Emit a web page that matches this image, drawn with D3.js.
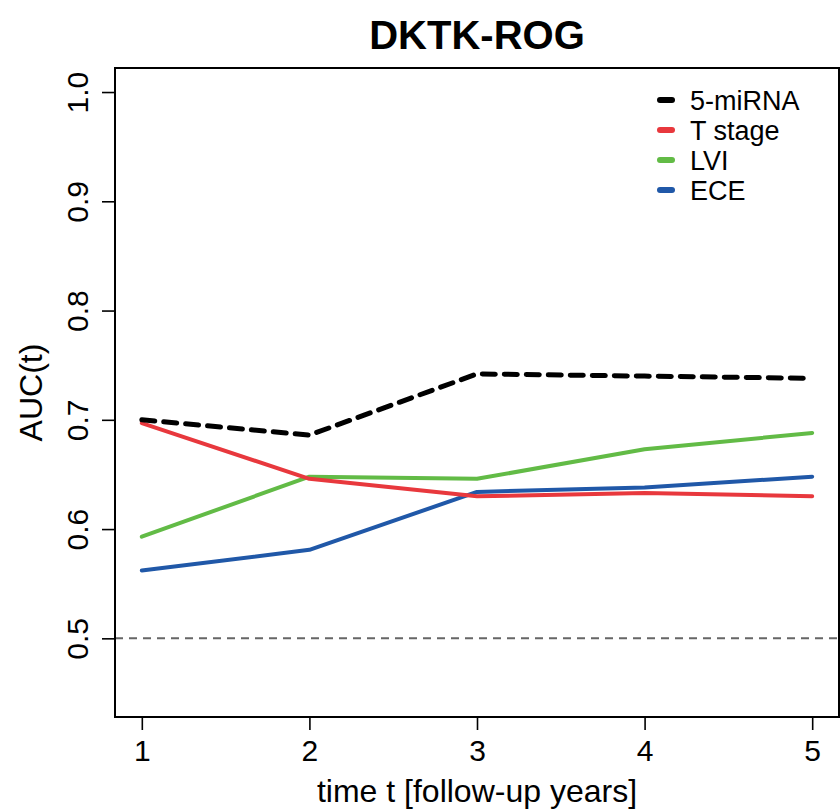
<!DOCTYPE html>
<html>
<head>
<meta charset="utf-8">
<script src="https://cdn.jsdelivr.net/npm/d3@7"></script>
<style>
  body { margin: 0; background: #fff; }
  svg { display: block; font-family: "Liberation Sans", Arial, sans-serif; }
</style>
</head>
<body>
<div id="chart"></div>
<script>
(function(){
  'use strict';

  var years = [1, 2, 3, 4, 5],
      seriesNames = ['5-miRNA', 'T stage', 'LVI', 'ECE'],
      miRNA = [0.700, 0.686, 0.742, 0.740, 0.738],
      tStage = [0.697, 0.646, 0.630, 0.633, 0.630],
      lvi = [0.593, 0.648, 0.646, 0.673, 0.688],
      ece = [0.562, 0.581, 0.634, 0.638, 0.648],
      yTicks = [0.5, 0.6, 0.7, 0.8, 0.9, 1.0],
      chance = 0.5;

  var seriesVals = [miRNA, tStage, lvi, ece],
      colors = ['#000000', '#e8383d', '#62bb46', '#2058a8'],
      dashes = ['13,9', null, null, null];

  var w = 840,
      h = 812,
      left = 115,
      right = 839,
      top = 68,
      bottom = 717;

  var svg = d3.select('#chart').append('svg')
    .attr('width', w)
    .attr('height', h);

  // R style 4% padding around the data range
  var x = d3.scaleLinear()
    .domain([0.84, 5.16])
    .range([left, right]);

  var y = d3.scaleLinear()
    .domain([0.428, 1.022])
    .range([bottom, top]);

  var xAxis = d3.axisBottom(x)
    .tickValues(years)
    .tickSize(13)
    .tickPadding(10)
    .tickFormat(d3.format('d'));

  var yAxis = d3.axisLeft(y)
    .tickValues(yTicks)
    .tickSize(13)
    .tickFormat(d3.format('.1f'));

  var gx = svg.append('g')
    .attr('class', 'x axis')
    .attr('transform', 'translate(0,' + bottom + ')')
    .call(xAxis);
  gx.select('.domain').remove();
  gx.selectAll('line').attr('stroke', '#000').attr('stroke-width', 1.6);
  gx.selectAll('text').attr('font-size', 30).attr('fill', '#000');

  var gy = svg.append('g')
    .attr('class', 'y axis')
    .attr('transform', 'translate(' + left + ',0)')
    .call(yAxis);
  gy.select('.domain').remove();
  gy.selectAll('line').attr('stroke', '#000').attr('stroke-width', 1.6);
  gy.selectAll('text')
    .attr('font-size', 30)
    .attr('fill', '#000')
    .attr('text-anchor', 'middle')
    .attr('dy', 0)
    .attr('x', 0)
    .attr('transform', 'translate(-27,0) rotate(-90)');

  // chance line
  svg.append('line')
    .attr('x1', left).attr('x2', right)
    .attr('y1', y(chance)).attr('y2', y(chance))
    .attr('stroke', '#666')
    .attr('stroke-width', 2)
    .attr('stroke-dasharray', '8,6');

  var line = d3.line()
    .x(function(d, i) { return x(years[i]); })
    .y(function(d) { return y(d); });

  // draw lines back to front so 5-miRNA sits on top
  d3.range(seriesVals.length).reverse().forEach(function(i) {
    svg.append('path')
      .datum(seriesVals[i])
      .attr('d', line)
      .attr('fill', 'none')
      .attr('stroke', colors[i])
      .attr('stroke-width', i === 0 ? 5 : 4)
      .attr('stroke-linecap', 'round')
      .attr('stroke-linejoin', 'round')
      .attr('stroke-dasharray', dashes[i]);
  });

  // plot frame
  svg.append('rect')
    .attr('x', left).attr('y', top)
    .attr('width', right - left).attr('height', bottom - top)
    .attr('fill', 'none')
    .attr('stroke', '#000')
    .attr('stroke-width', 2);

  // legend
  var legend = svg.append('g')
    .attr('transform', 'translate(660,100)');

  var items = legend.selectAll('.item')
    .data(seriesNames)
    .enter()
    .append('g')
    .attr('class', 'item')
    .attr('transform', function(d, i) { return 'translate(0,' + (i * 30) + ')'; });

  items.append('line')
    .attr('x1', 0).attr('x2', 12)
    .attr('stroke', function(d, i) { return colors[i]; })
    .attr('stroke-width', 6)
    .attr('stroke-linecap', 'round');

  items.append('text')
    .attr('x', 30)
    .attr('dy', '0.36em')
    .attr('font-size', 27)
    .text(function(d) { return d; });

  // titles
  svg.append('text')
    .attr('x', (left + right) / 2)
    .attr('y', 49)
    .attr('text-anchor', 'middle')
    .attr('font-size', 40)
    .attr('font-weight', 'bold')
    .text('DKTK-ROG');

  svg.append('text')
    .attr('x', (left + right) / 2)
    .attr('y', 802)
    .attr('text-anchor', 'middle')
    .attr('font-size', 32)
    .text('time t [follow-up years]');

  svg.append('text')
    .attr('transform', 'translate(42,' + ((top + bottom) / 2) + ') rotate(-90)')
    .attr('text-anchor', 'middle')
    .attr('font-size', 32)
    .text('AUC(t)');

}());
</script>
</body>
</html>
